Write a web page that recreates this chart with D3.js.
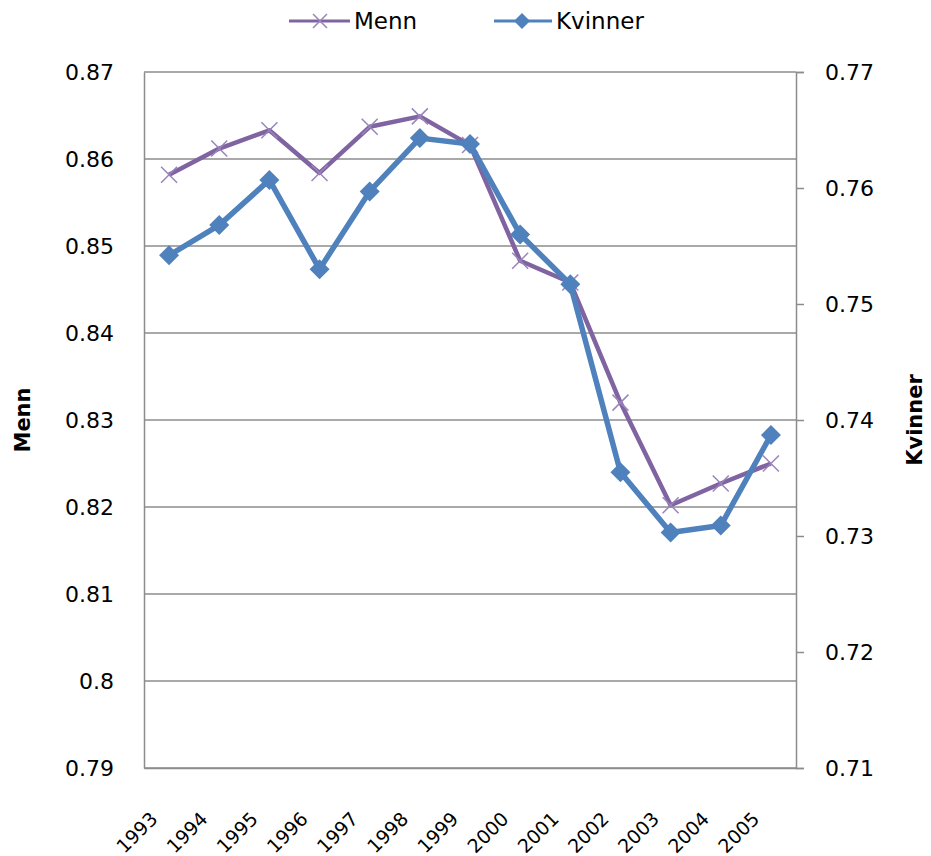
<!DOCTYPE html>
<html>
<head>
<meta charset="utf-8">
<script src="https://cdn.jsdelivr.net/npm/d3@7"></script>
<style>
  body { margin: 0; background: #fff; }
  text { font-family: "DejaVu Sans", Verdana, sans-serif; fill: #000; }
</style>
</head>
<body>
<svg id="chart" width="931" height="856"></svg>
<script>
// data
const years = ["1993","1994","1995","1996","1997","1998","1999","2000","2001","2002","2003","2004","2005"];
const menn = [0.8582, 0.8612, 0.8633, 0.8584, 0.8637, 0.8649, 0.8616, 0.8483, 0.8458, 0.8320, 0.8202, 0.8227, 0.8250];
const kvinner = [0.7542, 0.7568, 0.7607, 0.7530, 0.7597, 0.7643, 0.7638, 0.7560, 0.7517, 0.7355, 0.7303, 0.7309, 0.7387];
const leftTicks = [0.79, 0.80, 0.81, 0.82, 0.83, 0.84, 0.85, 0.86, 0.87];
const rightTicks = [0.71, 0.72, 0.73, 0.74, 0.75, 0.76, 0.77];

const mennColor = "#8064A2";
const kvinnerColor = "#4F81BD";
const gridColor = "#8c8c8c";

const plot = { left: 144, right: 796, top: 72, bottom: 768 };

const svg = d3.select("#chart");

const x = d3.scalePoint().domain(years).range([plot.left, plot.right]).padding(0.5);
const yL = d3.scaleLinear().domain([0.79, 0.87]).range([plot.bottom, plot.top]);
const yR = d3.scaleLinear().domain([0.71, 0.77]).range([plot.bottom, plot.top]);

// gridlines
svg.append("g")
   .selectAll("line")
   .data(leftTicks)
   .enter().append("line")
   .attr("x1", plot.left).attr("x2", plot.right)
   .attr("y1", d => yL(d)).attr("y2", d => yL(d))
   .attr("stroke", gridColor).attr("stroke-width", 1.5);

// left axis
const leftAxis = svg.append("g")
   .attr("transform", "translate(" + plot.left + ",0)")
   .call(d3.axisLeft(yL).tickValues(leftTicks).tickSize(0).tickPadding(30).tickFormat(d3.format(".2~f")));
leftAxis.select(".domain").attr("stroke", gridColor).attr("stroke-width", 1.5);
leftAxis.selectAll("text").style("font-size", "22px").attr("fill", "#000");

// right axis
const rightAxis = svg.append("g")
   .attr("transform", "translate(" + plot.right + ",0)")
   .call(d3.axisRight(yR).tickValues(rightTicks).tickSize(8).tickPadding(21).tickFormat(d3.format(".2~f")));
rightAxis.select(".domain").attr("stroke", gridColor).attr("stroke-width", 1.5);
rightAxis.selectAll(".tick line").attr("stroke", gridColor).attr("stroke-width", 1.5);
rightAxis.selectAll("text").style("font-size", "22px").attr("fill", "#000");

// bottom axis
const bottomAxis = svg.append("g")
   .attr("transform", "translate(0," + plot.bottom + ")")
   .call(d3.axisBottom(x).tickSize(0).tickSizeOuter(0));
bottomAxis.select(".domain").attr("stroke", gridColor).attr("stroke-width", 1.5);
bottomAxis.selectAll("text")
   .style("font-size", "19px")
   .attr("text-anchor", "end")
   .attr("dy", "0")
   .attr("transform", "translate(-13,50) rotate(-45)");

// axis titles
svg.append("text")
   .attr("transform", "translate(30,420) rotate(-90)")
   .attr("text-anchor", "middle")
   .style("font-size", "21px").style("font-weight", "bold")
   .text("Menn");
svg.append("text")
   .attr("transform", "translate(922,420) rotate(-90)")
   .attr("text-anchor", "middle")
   .style("font-size", "21px").style("font-weight", "bold")
   .text("Kvinner");

// lines
const lineL = d3.line().x((d, i) => x(years[i])).y(d => yL(d));
const lineR = d3.line().x((d, i) => x(years[i])).y(d => yR(d));

svg.append("path")
   .datum(menn)
   .attr("d", lineL)
   .attr("fill", "none").attr("stroke", mennColor).attr("stroke-width", 4.5).attr("stroke-linejoin", "round");

function crossPath(cx, cy, r) {
  return "M" + (cx - r) + "," + (cy - r) + "L" + (cx + r) + "," + (cy + r) +
         "M" + (cx - r) + "," + (cy + r) + "L" + (cx + r) + "," + (cy - r);
}
function diamondPath(cx, cy, r) {
  return "M" + cx + "," + (cy - r) + "L" + (cx + r) + "," + cy + "L" + cx + "," + (cy + r) + "L" + (cx - r) + "," + cy + "Z";
}

svg.append("g")
   .selectAll("path")
   .data(menn)
   .enter().append("path")
   .attr("d", (d, i) => crossPath(x(years[i]), yL(d), 8))
   .attr("stroke", "#9a85bb").attr("stroke-width", 1.5).attr("fill", "none");

svg.append("path")
   .datum(kvinner)
   .attr("d", lineR)
   .attr("fill", "none").attr("stroke", kvinnerColor).attr("stroke-width", 5.5).attr("stroke-linejoin", "round");

svg.append("g")
   .selectAll("path")
   .data(kvinner)
   .enter().append("path")
   .attr("d", (d, i) => diamondPath(x(years[i]), yR(d), 10))
   .attr("fill", kvinnerColor);

// legend
const legend = svg.append("g");
legend.append("line").attr("x1", 289).attr("x2", 350).attr("y1", 21).attr("y2", 21)
   .attr("stroke", mennColor).attr("stroke-width", 3);
legend.append("path").attr("d", crossPath(320, 21, 7))
   .attr("stroke", "#9a85bb").attr("stroke-width", 1.5).attr("fill", "none");
legend.append("text").attr("x", 354).attr("y", 29).style("font-size", "23px").text("Menn");

legend.append("line").attr("x1", 494).attr("x2", 552).attr("y1", 21).attr("y2", 21)
   .attr("stroke", kvinnerColor).attr("stroke-width", 3);
legend.append("path").attr("d", diamondPath(522, 21, 8)).attr("fill", kvinnerColor);
legend.append("text").attr("x", 556).attr("y", 29).style("font-size", "23px").text("Kvinner");
</script>
</body>
</html>
